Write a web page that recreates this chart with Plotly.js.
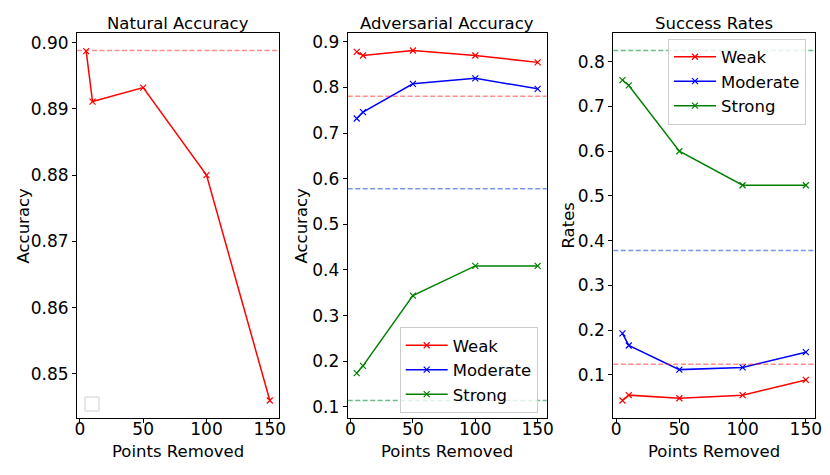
<!DOCTYPE html>
<html>
<head>
<meta charset="utf-8">
<script src="https://cdn.plot.ly/plotly-3.0.1.min.js"></script>
<style>
	body { margin: 0; padding: 0; background: white; }
	#plot { width: 830px; height: 475px; }
</style>
</head>
<body>
<div id="plot"></div>
<script>
// values
var pointsRemoved = [5, 10, 50, 100, 150];

var naturalAcc = [0.8987, 0.8911, 0.8932, 0.8800, 0.8460];
var naturalBaseline = [0.8988];

var advWeak = [0.878, 0.870, 0.881, 0.870, 0.855];
var advModerate = [0.732, 0.746, 0.808, 0.820, 0.797];
var advStrong = [0.174, 0.190, 0.344, 0.409, 0.409];
var advBaseline = [0.781, 0.578, 0.114]; // weak, moderate, strong

var rateWeak = [0.043, 0.055, 0.048, 0.055, 0.089];
var rateModerate = [0.193, 0.166, 0.112, 0.117, 0.151];
var rateStrong = [0.759, 0.747, 0.600, 0.524, 0.524];
var rateBaseline = [0.124, 0.378, 0.825];

var seriesNames = ["Weak", "Moderate", "Strong"];
var tickX = [0, 50, 100, 150];

var lineColors = ["#ff0000", "#0000ff", "#008000"];
var dashColors = ["rgba(255,0,0,0.45)", "rgba(65,105,225,0.7)", "rgba(46,160,87,0.7)"];

var font = "DejaVu Sans, sans-serif";

// autoscale like matplotlib: 5% padding on the data range
function padRange(arr) {
	var lo = Math.min(...arr);
	var hi = Math.max(...arr);
	var m = (hi - lo) * 0.05;
	return [lo - m, hi + m];
}

function lineTrace(y, color, xa, ya, name, legend) {
	return {
		x: pointsRemoved, y: y, type: 'scatter', mode: 'lines+markers',
		xaxis: xa, yaxis: ya, name: name,
		showlegend: name !== undefined, legend: legend,
		line: {color: color, width: 1.5},
		marker: {symbol: 'x-thin', size: 6, line: {color: color, width: 1.2}}
	};
}

function baseLine(y, color, xa, ya) {
	return {
		type: 'line', xref: xa + ' domain', yref: ya, x0: 0, x1: 1, y0: y, y1: y,
		line: {color: color, width: 1.5, dash: '5px,2.5px'}
	};
}

function axisX(domain, anchor) {
	return {
		domain: domain, anchor: anchor, range: padRange(pointsRemoved),
		tickvals: tickX, ticks: 'outside', ticklen: 4, tickcolor: 'black',
		ticklabelstandoff: -8,
		showline: true, linecolor: 'black', linewidth: 1, mirror: true,
		showgrid: false, zeroline: false,
		tickfont: {family: font, size: 17, color: 'black'}
	};
}

function axisY(domain, anchor, range, dtick, fmt) {
	return {
		domain: domain, anchor: anchor, range: range,
		dtick: dtick, tick0: 0, tickformat: fmt, ticks: 'outside', ticklen: 4, tickcolor: 'black',
		showline: true, linecolor: 'black', linewidth: 1, mirror: true,
		showgrid: false, zeroline: false,
		tickfont: {family: font, size: 17, color: 'black'}
	};
}

function drawChart() {
	var data = [];
	data.push(lineTrace(naturalAcc, lineColors[0], 'x', 'y'));

	var adv = [advWeak, advModerate, advStrong];
	var rates = [rateWeak, rateModerate, rateStrong];
	for (var i = 0; i < 3; i++) {
		data.push(lineTrace(adv[i], lineColors[i], 'x2', 'y2', seriesNames[i], 'legend'));
	}
	for (var i = 0; i < 3; i++) {
		data.push(lineTrace(rates[i], lineColors[i], 'x3', 'y3', seriesNames[i], 'legend2'));
	}

	var shapes = [baseLine(naturalBaseline[0], dashColors[0], 'x', 'y')];
	for (var i = 0; i < 3; i++) {
		shapes.push(baseLine(advBaseline[i], dashColors[i], 'x2', 'y2'));
		shapes.push(baseLine(rateBaseline[i], dashColors[i], 'x3', 'y3'));
	}
	// empty legend box of the first panel
	shapes.push({type: 'rect', xref: 'paper', yref: 'paper',
		x0: 85/830, x1: 99/830, y0: (475-411)/475, y1: (475-397)/475,
		line: {color: '#d0d0d0', width: 1}, fillcolor: 'rgba(255,255,255,0.8)'});

	var yDom = [0.12, 0.9305];
	var titles = ['Natural Accuracy', 'Adversarial Accuracy', 'Success Rates'];
	var yLabels = ['Accuracy', 'Accuracy', 'Rates'];
	var yLabelX = [24, 302, 569];
	var xs = ['x', 'x2', 'x3'];
	var annotations = [];
	var textFont = {family: font, size: 16.5, color: 'black'};
	for (var i = 0; i < 3; i++) {
		annotations.push({text: titles[i], xref: xs[i] + ' domain', yref: 'paper', x: 0.5, y: yDom[1],
			xanchor: 'center', yanchor: 'bottom', yshift: -2, showarrow: false, font: textFont});
		annotations.push({text: 'Points Removed', xref: xs[i] + ' domain', yref: 'paper', x: 0.5, y: 24/475,
			xanchor: 'center', yanchor: 'middle', showarrow: false, font: textFont});
		annotations.push({text: yLabels[i], xref: 'paper', yref: 'paper', x: yLabelX[i]/830,
			y: (yDom[0] + yDom[1]) / 2, xanchor: 'center', yanchor: 'middle', textangle: -90,
			showarrow: false, font: textFont});
	}

	var legendStyle = {
		bgcolor: 'rgba(255,255,255,0.8)', bordercolor: '#cccccc', borderwidth: 1,
		font: {family: font, size: 16.5, color: 'black'}, itemwidth: 42, tracegroupgap: 0
	};

	var layout = {
		width: 830, height: 475,
		margin: {l: 0, r: 0, t: 0, b: 0},
		paper_bgcolor: 'white', plot_bgcolor: 'white',
		showlegend: true,
		xaxis: axisX([77/830, 279/830], 'y'),
		yaxis: axisY(yDom, 'x', padRange(naturalAcc.concat(naturalBaseline)), 0.01, '.2f'),
		xaxis2: axisX([347.7/830, 546.7/830], 'y2'),
		yaxis2: axisY(yDom, 'x2', padRange(advWeak.concat(advModerate, advStrong, advBaseline)), 0.1, '.1f'),
		xaxis3: axisX([613.3/830, 815/830], 'y3'),
		yaxis3: axisY(yDom, 'x3', padRange(rateWeak.concat(rateModerate, rateStrong, rateBaseline)), 0.1, '.1f'),
		legend: Object.assign({x: 537.7/830, y: (475-413)/475, xanchor: 'right', yanchor: 'bottom'}, legendStyle),
		legend2: Object.assign({x: 806/830, y: (475-38.5)/475, xanchor: 'right', yanchor: 'top'}, legendStyle),
		shapes: shapes,
		annotations: annotations
	};

	Plotly.newPlot('plot', data, layout, {displayModeBar: false, staticPlot: true});
}

drawChart();
</script>
</body>
</html>
